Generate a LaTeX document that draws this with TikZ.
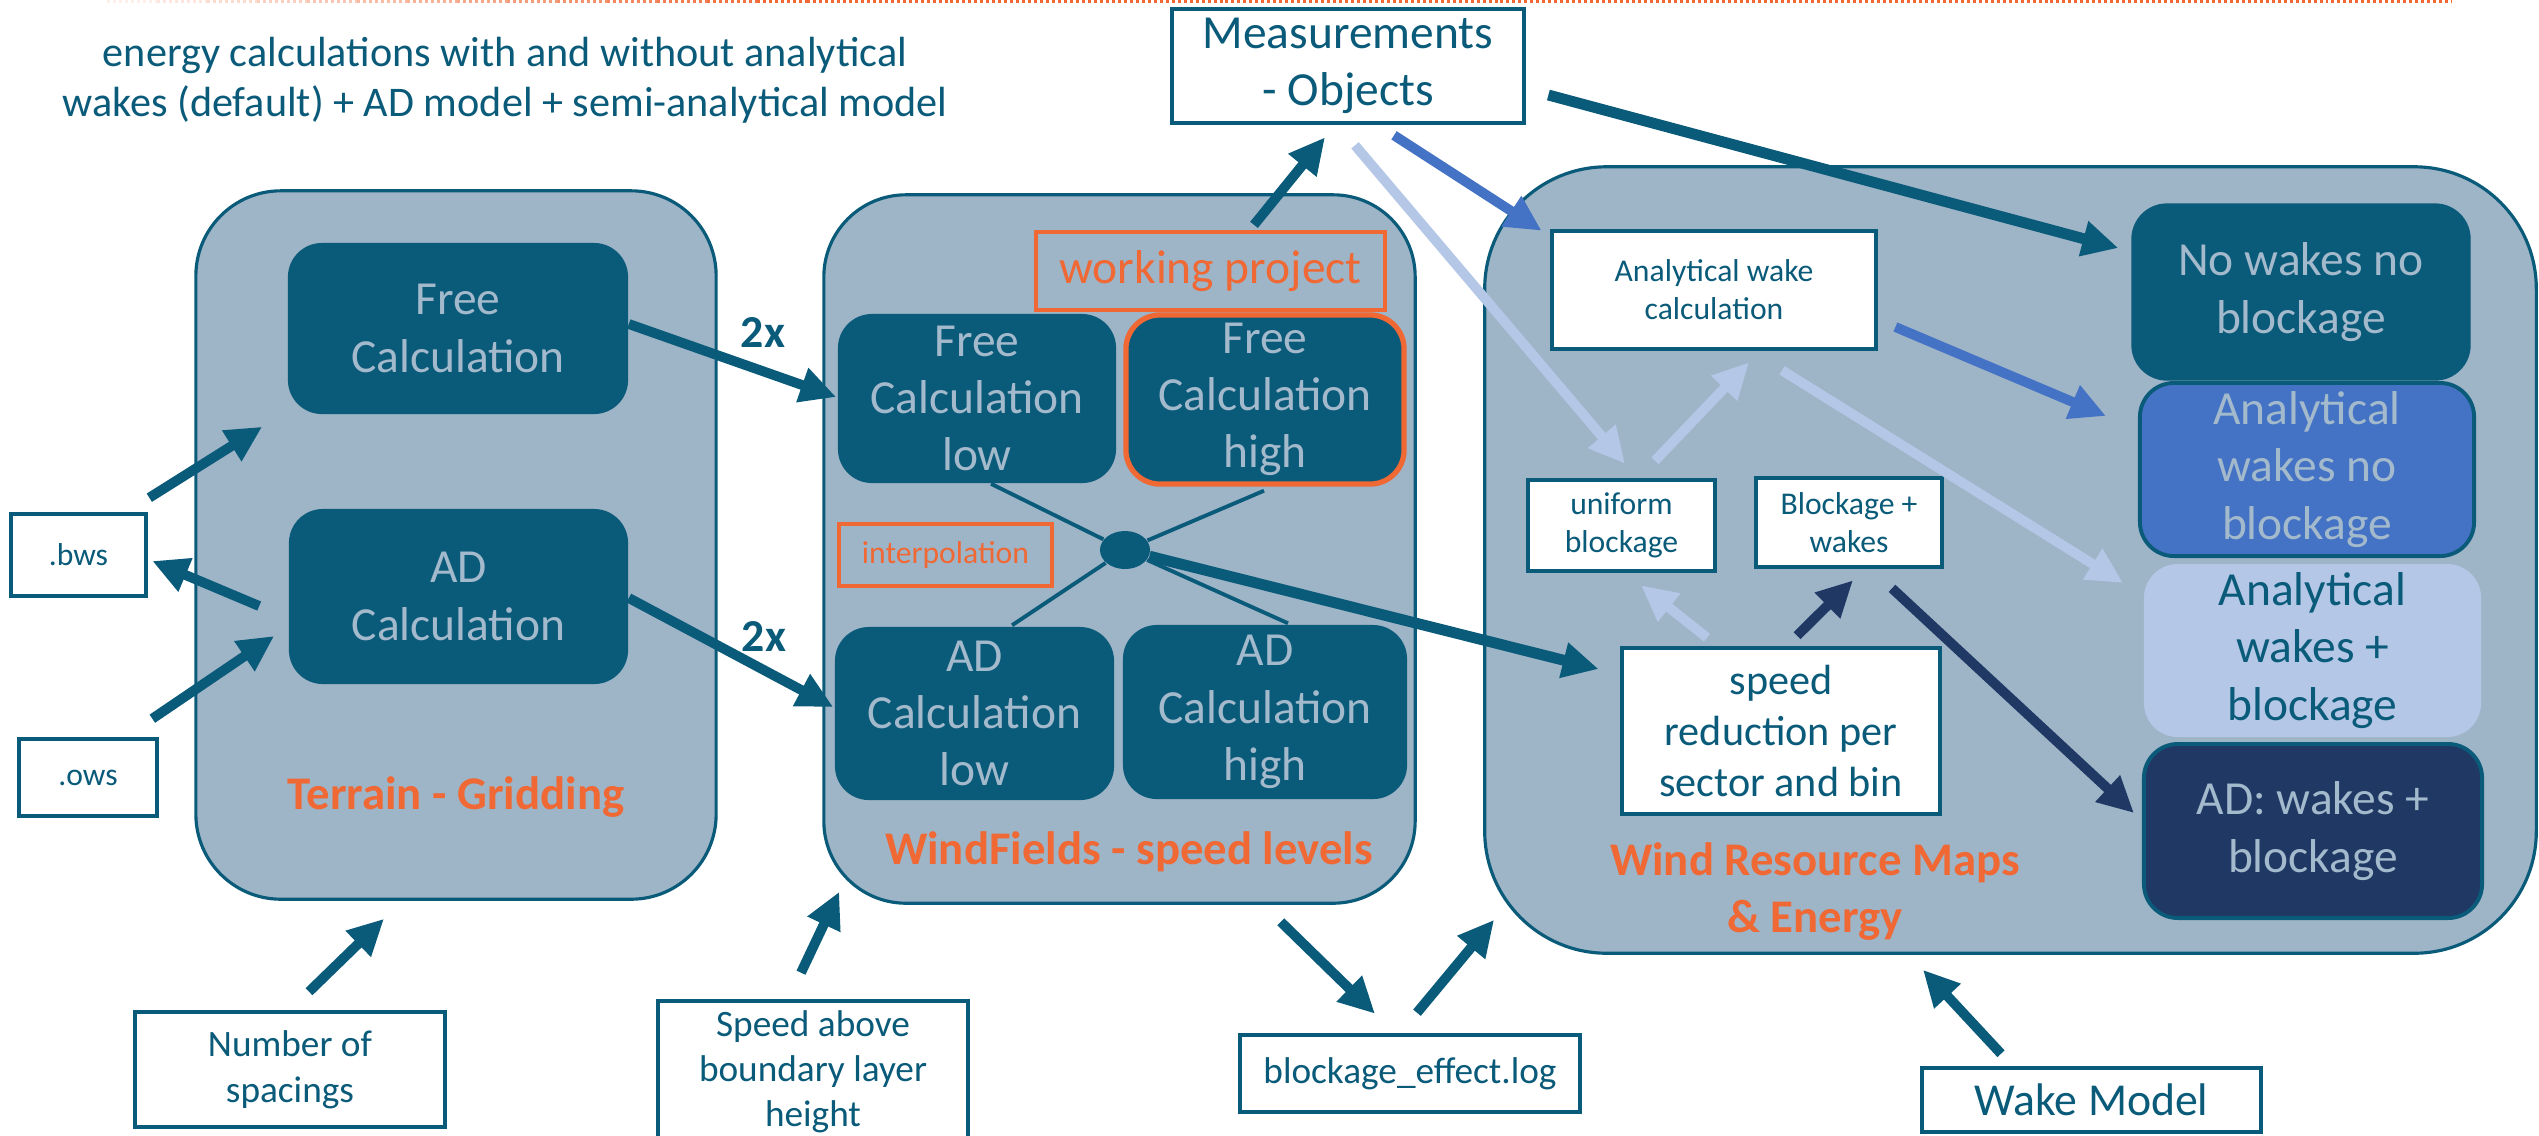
\documentclass[tikz,border=0pt]{standalone}
\usepackage{fontspec}
\setmainfont{Carlito}
\usetikzlibrary{arrows.meta,calc,shapes.geometric}

\definecolor{wteal}{RGB}{10,90,121}
\definecolor{grpfill}{RGB}{158,180,199}
\definecolor{softtxt}{RGB}{163,185,204}
\definecolor{worange}{RGB}{240,104,52}
\definecolor{wblue}{RGB}{68,114,196}
\definecolor{wlight}{RGB}{180,199,231}
\definecolor{wnavy}{RGB}{32,56,100}

\tikzset{
  grp/.style={draw=wteal, line width=0.9pt, fill=grpfill, inner sep=0pt},
  grplabel/.style={text=worange, align=center, inner sep=0pt,
    font=\bfseries\fontsize{13.3}{16.2}\selectfont},
  calcbox/.style={fill=wteal, text=softtxt, rounded corners=0.34cm, align=center,
    inner sep=0pt, font=\fontsize{13.5}{16.3}\selectfont},
  wbox/.style={draw=wteal, line width=1.3pt, fill=white, text=wteal, align=center, inner sep=0pt},
  obox/.style={draw=worange, line width=1.2pt, text=worange, align=center, inner sep=0pt},
  big/.style={font=\fontsize{13.5}{16.3}\selectfont},
  mid/.style={font=\fontsize{12}{14.5}\selectfont},
  lab/.style={font=\fontsize{10.6}{12.6}\selectfont},
  small/.style={font=\fontsize{9}{10.8}\selectfont},
  twox/.style={text=wteal, inner sep=0pt, font=\bfseries\fontsize{13}{15}\selectfont},
  arr/.style={line width=2.8pt, -{Triangle[length=0.36cm,width=0.34cm]}},
  thinlink/.style={draw=wteal, line width=1.1pt},
}

\begin{document}
\begin{tikzpicture}[x=0.01cm,y=-0.01cm]
\useasboundingbox (0,0) rectangle (2539,1135);
\clip (0,0) rectangle (2539,1135);

% dotted header rule, fading in from the left
\foreach \i in {0,...,13} {
  \pgfmathsetmacro\op{0.1+\i*0.069}
  \draw[worange, line width=0.85pt, dash pattern=on 0.85pt off 0.85pt, draw opacity=\op]
    ({107+\i*50},1.5) -- ({157+\i*50},1.5);
}
\draw[worange, line width=0.85pt, dash pattern=on 0.85pt off 0.85pt] (807,1.5) -- (2452,1.5);

% heading
\node[text=wteal, align=center, inner sep=0pt, font=\fontsize{12}{14.2}\selectfont] (ttl) at (505,80)
  {energy calculations with and without analytical\\wakes (default) + AD model + semi-analytical model};

% ---------- groups ----------
\node[grp, rounded corners=0.85cm, minimum width=5.20cm, minimum height=7.08cm] (terrain) at (456,545) {};
\node[grp, rounded corners=0.82cm, minimum width=5.91cm, minimum height=7.08cm] (wf) at (1119.5,549) {};
\node[grp, rounded corners=1.22cm, minimum width=10.51cm, minimum height=7.86cm] (wrm) at (2010.5,560) {};

\node[grplabel] (tlbl) at (456,797) {Terrain - Gridding};
\node[grplabel] (wflbl) at (1129,852) {WindFields - speed levels};
\node[grplabel] (wrmlbl) at (1815,892) {Wind Resource Maps\\\& Energy};

% ---------- terrain gridding ----------
\node[calcbox, minimum width=3.40cm, minimum height=1.71cm] (tfree) at (458,328.5) {Free\\Calculation};
\node[calcbox, minimum width=3.39cm, minimum height=1.75cm] (tad) at (458.5,596.5) {AD\\Calculation};

\node[wbox, small, minimum width=1.35cm, minimum height=0.82cm] (bws) at (78.5,555) {.bws};
\node[wbox, small, minimum width=1.38cm, minimum height=0.77cm] (ows) at (88,777.5) {.ows};
\node[wbox, font=\fontsize{10.6}{13}\selectfont, minimum width=3.10cm, minimum height=1.15cm] (nspace) at (290,1069.5) {Number of\\spacings};
\node[wbox, font=\fontsize{10.6}{12.8}\selectfont, minimum width=3.10cm, minimum height=1.42cm] (speedabove) at (813,1072) {Speed above\\boundary layer\\height};

% ---------- wind fields ----------
\node[obox, big, minimum width=3.49cm, minimum height=0.78cm] (wproj) at (1210.5,271) {working project};
\node[calcbox, minimum width=2.78cm, minimum height=1.69cm] (flow) at (977,398.5) {Free\\Calculation\\low};
\node[calcbox, draw=worange, line width=1.5pt, minimum width=2.78cm, minimum height=1.69cm] (fhigh) at (1265,399.5) {Free\\Calculation\\high};
\node[obox, small, minimum width=2.13cm, minimum height=0.62cm] (interp) at (945.5,555) {interpolation};
\node[calcbox, minimum width=2.79cm, minimum height=1.73cm] (adlow) at (974.5,713.5) {AD\\Calculation\\low};
\node[calcbox, minimum width=2.84cm, minimum height=1.74cm] (adhigh) at (1265,712) {AD\\Calculation\\high};
\node[ellipse, fill=wteal, inner sep=0pt, minimum width=0.50cm, minimum height=0.38cm] (dot) at (1125,550) {};

\draw[thinlink] (dot) -- ([shift={(14,0)}]flow.south);
\draw[thinlink] (dot) -- ([shift={(-1,4)}]fhigh.south);
\draw[thinlink] (dot) -- ([shift={(37.5,-1)}]adlow.north);
\draw[thinlink] (dot) -- ([shift={(23,-1)}]adhigh.north);

% ---------- top and bottom boxes ----------
\node[wbox, big, minimum width=3.52cm, minimum height=1.14cm] (meas) at (1348,66) {Measurements\\- Objects};
\node[wbox, lab, minimum width=3.40cm, minimum height=0.77cm] (blog) at (1410,1073.5) {blockage\_effect.log};
\node[wbox, font=\fontsize{13}{15}\selectfont, minimum width=3.39cm, minimum height=0.64cm] (wakem) at (2091.5,1100) {Wake Model};

% ---------- wind resource maps ----------
\node[wbox, small, minimum width=3.24cm, minimum height=1.18cm] (awc) at (1714,290) {Analytical wake\\calculation};
\node[wbox, small, minimum width=1.87cm, minimum height=0.91cm] (uniform) at (1621.5,525.5) {uniform\\blockage};
\node[wbox, small, minimum width=1.86cm, minimum height=0.89cm] (bw) at (1849,522.5) {Blockage +\\wakes};
\node[wbox, mid, minimum width=3.18cm, minimum height=1.66cm] (speedred) at (1781,731) {speed\\reduction per\\sector and bin};

\node[calcbox, draw=wteal, line width=0.9pt, minimum width=3.36cm, minimum height=1.74cm] (nowakes) at (2301,292) {No wakes no\\blockage};
\node[calcbox, fill=wblue, draw=wteal, line width=1.1pt, minimum width=3.34cm, minimum height=1.73cm] (awnb) at (2307,469.5) {Analytical\\wakes no\\blockage};
\node[calcbox, fill=wlight, text=wteal, minimum width=3.37cm, minimum height=1.73cm] (awb) at (2312.5,650.5) {Analytical\\wakes +\\blockage};
\node[calcbox, fill=wnavy, draw=wteal, line width=1.1pt, minimum width=3.38cm, minimum height=1.74cm] (adwb) at (2313,831) {AD: wakes +\\blockage};

% multiplicity labels
\node[twox] (twofree) at (763,332) {2x};
\node[twox] (twoad) at (764,636) {2x};

% ---------- connectors ----------
\draw[arr, wteal] ([shift={(1,-14)}]bws.north east) -- ([shift={(-25,12)}]tfree.south west);
\draw[arr, wteal] ([shift={(-29,9.5)}]tad.west) -- ([shift={(4,6)}]bws.east);
\draw[arr, wteal] ([shift={(-7,-18)}]ows.north east) -- ([shift={(-14,39.5)}]tad.west);
\draw[arr, wteal] ([shift={(0,-4.5)}]tfree.east) -- ([shift={(-1,-1.5)}]flow.west);
\draw[arr, wteal] ([shift={(0,1.5)}]tad.east) -- ([shift={(-1,-6.5)}]adlow.west);
\draw[arr, wteal] ([shift={(19,-18)}]nspace.north) -- ([shift={(-72,18)}]terrain.south);
\draw[arr, wteal] ([shift={(-12,-26)}]speedabove.north) -- ([shift={(17,-13)}]wf.south west);
\draw[arr, wteal] ([shift={(43.5,-5)}]wproj.north) -- ([shift={(-23,12)}]meas.south);
\draw[arr, wteal] ([shift={(-136,17)}]wf.south east) -- ([shift={(-35,-19)}]blog.north);
\draw[arr, wteal] ([shift={(7,-20)}]blog.north) -- ([shift={(11,-35)}]wrm.south west);
\draw[arr, wteal] ([shift={(-90.5,-12)}]wakem.north) -- ([shift={(-87.5,15)}]wrm.south);

\draw[arr, wteal, line width=3.1pt] ([shift={(22,29)}]meas.east) -- ([shift={(-13,-44)}]nowakes.west);
\draw[arr, wblue] ([shift={(46,10)}]meas.south) -- ([shift={(-8,2)}]awc.north west);
\draw[arr, wlight] ([shift={(7,20)}]meas.south) -- ([shift={(3.5,-14)}]uniform.north);
\draw[arr, wblue] ([shift={(17,37)}]awc.east) -- ([shift={(-32,-53.5)}]awnb.west);
\draw[arr, wlight] ([shift={(68,19)}]awc.south) -- ([shift={(-20,-67.5)}]awb.west);
\draw[arr, wlight] ([shift={(33.5,-17)}]uniform.north) -- ([shift={(35,11)}]awc.south);
\draw[arr, wlight] ([shift={(-74,-8)}]speedred.north) -- ([shift={(19.5,12)}]uniform.south);
\draw[arr, wnavy] ([shift={(16,-10)}]speedred.north) -- ([shift={(4,11)}]bw.south);
\draw[arr, wnavy] ([shift={(43,19)}]bw.south) -- ([shift={(-8,-18)}]adwb.west);
\draw[arr, wteal, line width=3.1pt] (dot) -- ([shift={(-21,-62)}]speedred.west);

\end{tikzpicture}
\end{document}
